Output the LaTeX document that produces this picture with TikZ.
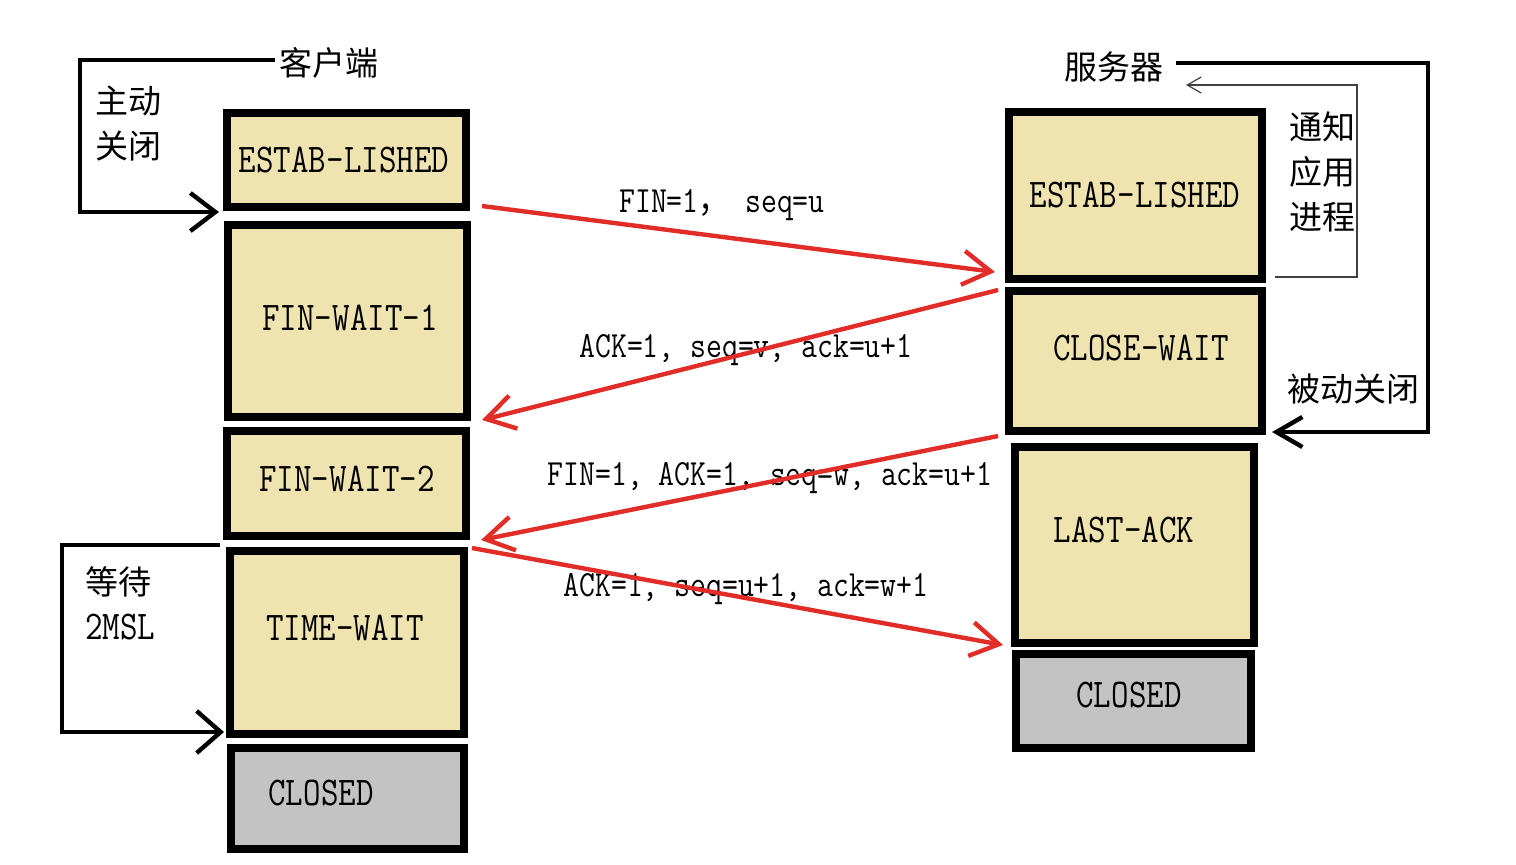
\documentclass[tikz,border=0pt]{standalone}
\usepackage{fontspec}
\usepackage{graphicx}
\usetikzlibrary{arrows.meta}
\newfontfamily\cjk{Noto Sans CJK SC}
\definecolor{boxfill}{RGB}{239,228,176}
\definecolor{boxgray}{RGB}{195,195,195}
\definecolor{arrred}{RGB}{226,44,40}
\newcommand{\bxt}[1]{\scalebox{1}[1.2]{#1}}
\tikzset{
  stbox/.style={draw, line width=4pt, fill=boxfill, inner sep=0pt, outer sep=0pt},
  grbox/.style={stbox, fill=boxgray},
  stlabel/.style={font=\fontsize{17}{20}\selectfont\ttfamily, inner sep=0pt},
  msglabel/.style={font=\fontsize{15.4}{18}\selectfont\ttfamily, inner sep=0pt},
  cjklabel/.style={font=\fontsize{16.5}{22.5}\selectfont\cjk, inner sep=0pt, align=left},
  redarrow/.style={draw=arrred, line width=2.2pt, -{Straight Barb[length=14pt,width=17pt]}},
  loopline/.style={draw=black, line width=2.2pt},
  thinline/.style={draw=black!75, line width=0.6pt, -{Straight Barb[length=7pt,width=8pt]}}
}
\begin{document}
\begin{tikzpicture}[x=0.5pt,y=-0.5pt]
\useasboundingbox (0,0) rectangle (1516,864);
\fill[white] (0,0) rectangle (1516,864);

% client boxes
\node[stbox, minimum width=119.5pt, minimum height=47pt] (lest) at (346.5,160) {};
\node[stbox, minimum width=119.5pt, minimum height=96pt] (fw1) at (347.5,321) {};
\node[stbox, minimum width=119.5pt, minimum height=52.5pt] (fw2) at (346.5,483.5) {};
\node[stbox, minimum width=117pt, minimum height=91.5pt] (tw) at (347,642.5) {};
\node[grbox, minimum width=116.5pt, minimum height=50.5pt] (lcl) at (347.5,798.5) {};
% server boxes
\node[stbox, minimum width=126.5pt, minimum height=83.5pt] (rest) at (1135.5,195.5) {};
\node[stbox, minimum width=126.5pt, minimum height=70pt] (cw) at (1135.5,361) {};
\node[stbox, minimum width=119.5pt, minimum height=98pt] (la) at (1134.5,545) {};
\node[grbox, minimum width=117.5pt, minimum height=47pt] (rcl) at (1133.5,701) {};

% box labels
\node[stlabel] (tlest) at (344,160) {\bxt{ESTAB-LISHED}};
\node[stlabel] (tfw1) at (350,318) {\bxt{FIN-WAIT-1}};
\node[stlabel] (tfw2) at (347,479) {\bxt{FIN-WAIT-2}};
\node[stlabel] (ttw) at (345,628) {\bxt{TIME-WAIT}};
\node[stlabel] (tlcl) at (321,793) {\bxt{CLOSED}};
\node[stlabel] (trest) at (1135,195) {\bxt{ESTAB-LISHED}};
\node[stlabel] (tcw) at (1141,348) {\bxt{CLOSE-WAIT}};
\node[stlabel] (tla) at (1124,530) {\bxt{LAST-ACK}};
\node[stlabel] (trcl) at (1129,695) {\bxt{CLOSED}};

% side texts
\node[cjklabel] (client) at (329,63) {客户端};
\node[cjklabel] (server) at (1114,67) {服务器};
\node[cjklabel, anchor=west] (active) at (95,124) {主动\\关闭};
\node[cjklabel, anchor=west] (notify) at (1289,172) {通知\\应用\\进程};
\node[cjklabel] (passive) at (1353,389) {被动关闭};
\node[cjklabel, anchor=west] (wait) at (85,603) {等待\\{\ttfamily\fontsize{17}{20}\selectfont\bxt{2MSL}}};

% message labels
\node[msglabel] (m1) at (722,205) {\bxt{FIN=1{\cjk ，}\ seq=u}};
\node[msglabel] (m2) at (746,350) {\bxt{ACK=1, seq=v, ack=u+1}};
\node[msglabel] (m3) at (770,478) {\bxt{FIN=1, ACK=1, seq=w, ack=u+1}};
\node[msglabel] (m4) at (746,589) {\bxt{ACK=1, seq=u+1, ack=w+1}};

% connector end points
\coordinate (a1s) at (482,206);
\coordinate (a1e) at (995,272);
\coordinate (a2s) at (998,290);
\coordinate (a2e) at (482,420);
\coordinate (a3s) at (998,436);
\coordinate (a3e) at (481,540);
\coordinate (a4s) at (472,548);
\coordinate (a4e) at (1003,645);

\draw[redarrow] (a1s) -- (a1e);
\draw[redarrow] (a2s) -- (a2e);
\draw[redarrow] (a3s) -- (a3e);
\draw[redarrow] (a4s) -- (a4e);

% black loops
\coordinate (c1s) at (275,60);
\coordinate (c1c) at (80,212);
\coordinate (c1e) at (219,212);
\draw[loopline, -{Straight Barb[length=12.5pt,width=19pt]}] (c1s) -| (c1c) -- (c1e);

\coordinate (s1s) at (1176,63);
\coordinate (s1c) at (1428,432);
\coordinate (s1e) at (1272,432);
\draw[loopline, -{Straight Barb[length=13pt,width=15pt]}] (s1s) -| (s1c) -- (s1e);

\coordinate (n1s) at (1275,277);
\coordinate (n1c) at (1357,85);
\coordinate (n1e) at (1186,85);
\draw[thinline] (n1s) -| (n1c) -- (n1e);

\coordinate (t1s) at (220,545);
\coordinate (t1c) at (62,732);
\coordinate (t1e) at (224,732);
\draw[loopline, -{Straight Barb[length=12pt,width=21pt]}] (t1s) -| (t1c) -- (t1e);
\end{tikzpicture}
\end{document}
